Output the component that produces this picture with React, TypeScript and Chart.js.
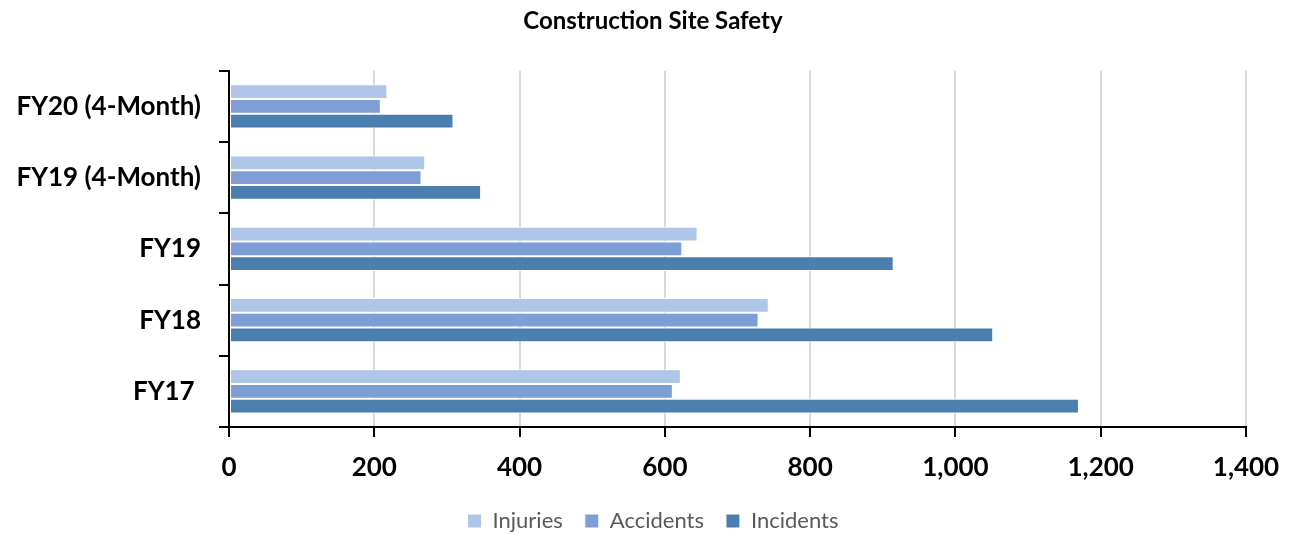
import React, { useEffect, useRef } from "react";
import { Chart, registerables } from "chart.js";

Chart.register(...registerables);

const categories = ["FY20 (4-Month)", "FY19 (4-Month)", "FY19", "FY18", "FY17 "];
const injuries = [218, 270, 645, 743, 622];
const accidents = [209, 265, 624, 729, 611];
const incidents = [309, 347, 915, 1052, 1170];
const seriesNames = ["Injuries", "Accidents", "Incidents"];
const seriesColors = ["#AEC6E7", "#7E9ED6", "#4A7FB0"];
const xTicks = [0, 200, 400, 600, 800, 1000, 1200, 1400];

const FONT = "Lato, 'Open Sans', sans-serif";

export default function App() {
  const ref = useRef<HTMLCanvasElement | null>(null);

  useEffect(() => {
    if (!ref.current) return;
    const values = [injuries, accidents, incidents];
    const chart = new Chart(ref.current, {
      type: "bar",
      data: {
        labels: categories,
        datasets: seriesNames.map((name, i) => ({
          label: name,
          data: values[i],
          backgroundColor: seriesColors[i],
          borderColor: "#ffffff",
          borderWidth: 1,
          borderSkipped: false,
          categoryPercentage: 0.62,
          barPercentage: 1.0,
        })),
      },
      options: {
        indexAxis: "y",
        animation: false,
        responsive: false,
        maintainAspectRatio: false,
        layout: { padding: { left: 15, right: 0, top: 0, bottom: -8 } },
        plugins: {
          title: {
            display: true,
            text: "Construction Site Safety",
            color: "#000000",
            font: { family: FONT, size: 24, weight: "bold" },
            padding: { top: 7, bottom: 35 },
          },
          legend: {
            position: "bottom",
            labels: {
              boxWidth: 14,
              boxHeight: 14,
              padding: 22,
              color: "#595959",
              font: { family: FONT, size: 22 },
            },
          },
          tooltip: { enabled: false },
        },
        scales: {
          x: {
            min: 0,
            max: 1400,
            afterBuildTicks: (scale: any) => {
              scale.ticks = xTicks.map((v) => ({ value: v }));
            },
            ticks: {
              color: "#000000",
              font: { family: FONT, size: 26, weight: "bold" },
              padding: 15,
              callback: (v: any) => Number(v).toLocaleString("en-US"),
            },
            grid: {
              color: "#D9D9D9",
              lineWidth: 2,
              tickColor: "#000000",
              tickLength: 10,
              tickWidth: 2,
            },
            border: { color: "#000000", width: 2 },
            afterFit: (scale: any) => {
              scale.height = 61;
              scale.paddingRight = 45;
            },
          },
          y: {
            ticks: {
              color: "#000000",
              font: { family: FONT, size: 26, weight: "bold" },
              padding: 18,
            },
            grid: {
              offset: true,
              drawOnChartArea: false,
              color: "#000000",
              tickLength: 10,
              lineWidth: 2,
            },
            border: { color: "#000000", width: 2 },
            afterFit: (scale: any) => {
              scale.width = 214;
            },
          },
        },
      },
    });
    return () => chart.destroy();
  }, []);

  return (
    <div style={{ position: "absolute", left: 0, top: 0, width: 1291, height: 534, background: "#ffffff" }}>
      <canvas ref={ref} width={1291} height={534} style={{ width: 1291, height: 534 }} />
    </div>
  );
}
